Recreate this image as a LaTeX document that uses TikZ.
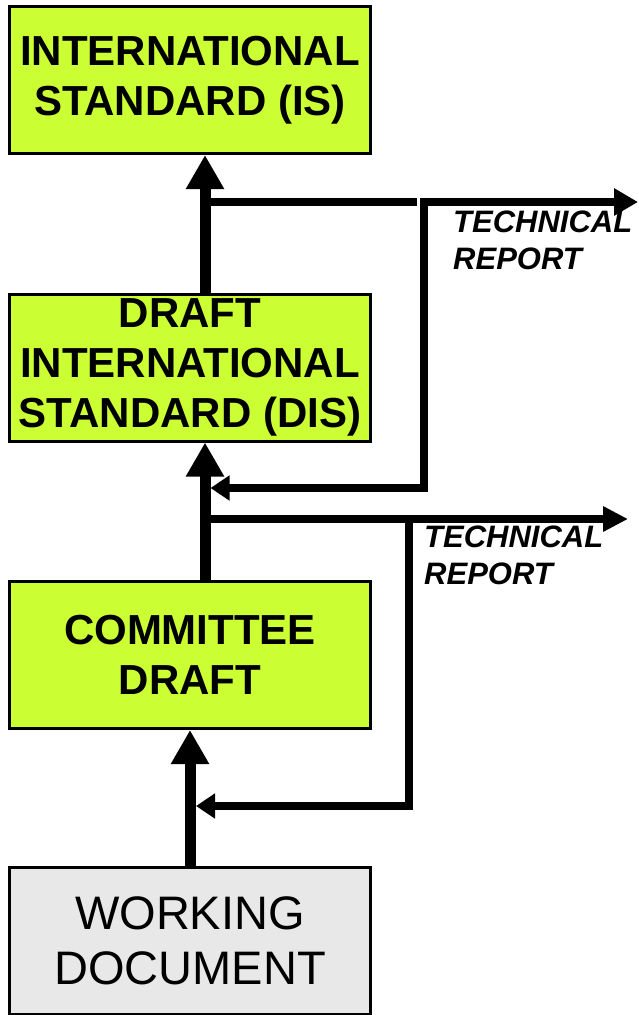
\documentclass[tikz,border=0pt]{standalone}
\usepackage{fontspec}
\setmainfont{Liberation Sans}
\usetikzlibrary{arrows.meta}
\definecolor{draftgreen}{RGB}{204,255,51}
\definecolor{workgray}{RGB}{232,232,232}
\begin{document}
\begin{tikzpicture}[x=1pt,y=-1pt,
  stagebox/.style={draw=black, line width=3pt, fill=draftgreen,
    minimum width=361pt, minimum height=147pt, inner sep=0pt, align=center,
    font=\bfseries\fontsize{42}{50}\selectfont},
  workbox/.style={stagebox, fill=workgray, font=\fontsize{47}{55}\selectfont},
  mainflow/.style={line width=11pt, -{Triangle[length=34pt,width=36pt]}},
  sideflow/.style={line width=8pt, line join=miter},
  techlabel/.style={inner sep=0pt, align=left,
    font=\bfseries\itshape\fontsize{31}{37}\selectfont}]
\useasboundingbox (0,0) rectangle (638,1015);

% stages of the standard
\node[stagebox] (is)  at (190,80)    {INTERNATIONAL\\STANDARD (IS)};
\node[stagebox] (dis) at (190,367.5) {DRAFT\\INTERNATIONAL\\STANDARD (DIS)};
\node[stagebox] (cd)  at (190,655)   {COMMITTEE\\DRAFT};
\node[workbox]  (wd)  at (190,941)   {WORKING\\DOCUMENT};

% routing points
\coordinate (colA)    at (205,0);
\coordinate (gapend)  at (417,202);
\coordinate (trA)     at (638,202);
\coordinate (cornerA) at (424,488);
\coordinate (backA)   at (210.5,488);
\coordinate (trB)     at (628,519);
\coordinate (cornerB) at (409,806);
\coordinate (backB)   at (196,806);

% side branches to the technical reports
\draw[sideflow] (colA |- gapend) -- (gapend);
\draw[sideflow, {Triangle[length=19pt,width=24pt]}-{Triangle[length=24pt,width=26pt]}]
  (backA) -- (cornerA) -- (cornerA |- trA) -- (trA);
\draw[sideflow, -{Triangle[length=25pt,width=24pt]}] (colA |- trB) -- (trB);
\draw[sideflow, -{Triangle[length=19pt,width=24pt]}]
  (cornerB |- trB) -- (cornerB) -- (backB);

% main progression
\draw[mainflow] (wd.north) -- (cd.south);
\draw[mainflow] (cd.north -| colA) -- (dis.south -| colA);
\draw[mainflow] (dis.north -| colA) -- (is.south -| colA);

% labels
\node[techlabel, anchor=north west] (tr1) at (453,211) {TECHNICAL\\REPORT};
\node[techlabel, anchor=north west] (tr2) at (424,526) {TECHNICAL\\REPORT};
\end{tikzpicture}
\end{document}
